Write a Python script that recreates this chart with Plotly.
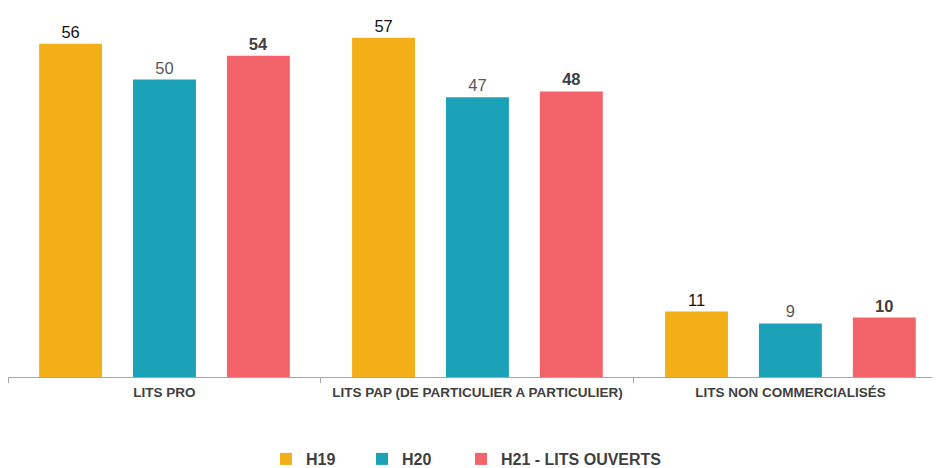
import plotly.graph_objects as go

categories = ["LITS PRO", "LITS PAP (DE PARTICULIER A PARTICULIER)", "LITS NON COMMERCIALISÉS"]
series_names = ["H19", "H20", "H21 - LITS OUVERTS"]
h19 = [56, 57, 11]
h20 = [50, 47, 9]
h21 = [54, 48, 10]

colors = ["#F2AF18", "#1BA1B8", "#F2636A"]
label_fonts = [
    dict(family="Liberation Sans, Arial", size=16.5, color="#111111"),
    dict(family="Liberation Sans, Arial", size=16.5, color="#595959"),
    dict(family="Liberation Sans, Arial", size=16.5, color="#404040", weight="bold"),
]
legend_ids = ["legend", "legend2", "legend3"]
legend_text_px = [306, 402, 501]   # page x where each legend text starts

# the page body has an 8px margin, so the figure is offset by (8, 8)
OFF = 8
W, H = 932, 460
fig = go.Figure()
for name, vals, col, lf, lid in zip(series_names, [h19, h20, h21], colors, label_fonts, legend_ids):
    fig.add_trace(go.Bar(
        x=categories, y=vals, name=name, legend=lid,
        marker=dict(color=col, line=dict(width=0)),
        text=[str(v) for v in vals], textposition="outside",
        textfont=lf, cliponaxis=False,
    ))

legend_font = dict(family="Liberation Sans, Arial", size=16, color="#404040", weight="bold")
legends = {}
for lid, tx in zip(legend_ids, legend_text_px):
    legends[lid] = dict(
        xref="container", yref="container",
        x=(tx - OFF - 40) / W, xanchor="left",
        y=(H - (459 - OFF)) / H, yanchor="middle",
        font=legend_font, itemwidth=30, bgcolor="rgba(0,0,0,0)",
    )

fig.update_layout(
    width=W, height=H,
    margin=dict(l=0, r=0, t=12.4, b=91, autoexpand=False),
    paper_bgcolor="white", plot_bgcolor="white",
    barmode="group", bargap=0.1, bargroupgap=0.33,
    showlegend=True,
    xaxis=dict(
        range=[-0.5, 2.478],
        showline=True, linecolor="#A6A6A6", linewidth=1,
        ticks="outside", tickson="boundaries", ticklen=5, tickcolor="#A6A6A6",
        ticklabelstandoff=3,
        tickfont=dict(family="Liberation Sans, Arial", size=13.5, color="#404040", weight="bold"),
        showgrid=False,
    ),
    yaxis=dict(range=[0, 60], visible=False, showgrid=False, zeroline=False),
    **legends,
)
fig.update_traces(textangle=0)

fig.write_html("out.html")
